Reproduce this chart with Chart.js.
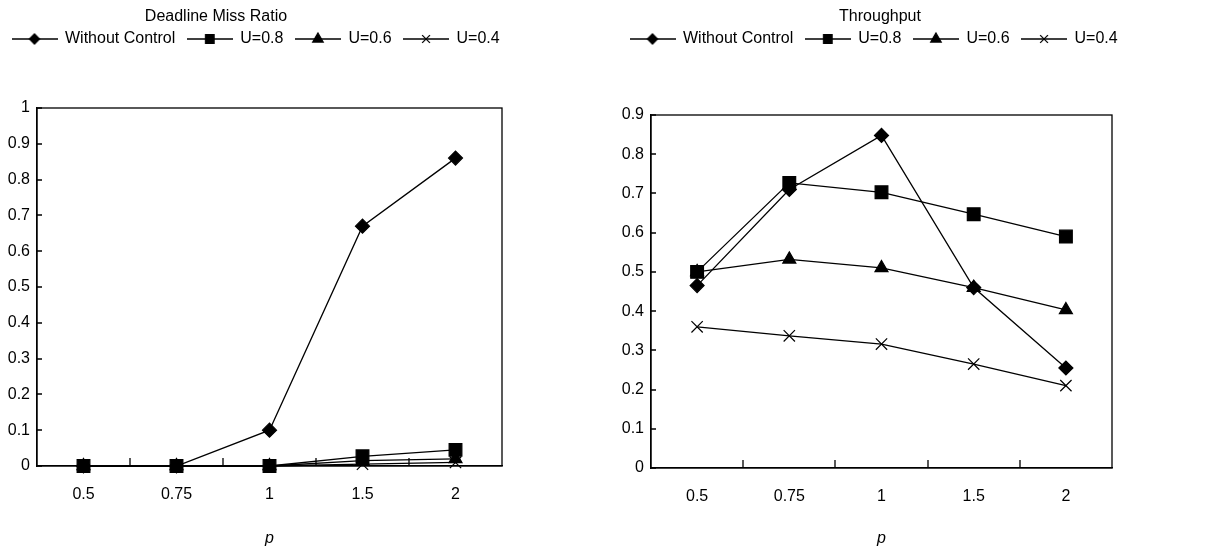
<!DOCTYPE html>
<html>
<head>
<meta charset="utf-8">
<script src="https://cdn.jsdelivr.net/npm/chart.js@4.4.1/dist/chart.umd.min.js"></script>
<style>
  body { margin: 0; background: #fff; }
  #left { position: absolute; left: 0; top: 0; width: 600px; height: 549px; }
  #right { position: absolute; left: 600px; top: 0; width: 606px; height: 549px; }
</style>
</head>
<body>
<div id="left"><canvas id="miss"></canvas></div>
<div id="right"><canvas id="thr"></canvas></div>
<script>
var categories = ['0.5', '0.75', '1', '1.5', '2'];
var seriesNames = ['Without Control', 'U=0.8', 'U=0.6', 'U=0.4'];

// Deadline Miss Ratio
var missWithout = [0, 0, 0.1, 0.67, 0.86];
var missU08 = [0, 0, 0, 0.027, 0.045];
var missU06 = [0, 0, 0, 0.015, 0.02];
var missU04 = [0, 0, 0, 0.005, 0.01];
var missTicks = [0, 0.1, 0.2, 0.3, 0.4, 0.5, 0.6, 0.7, 0.8, 0.9, 1];

// Throughput
var thrWithout = [0.465, 0.71, 0.848, 0.46, 0.255];
var thrU08 = [0.50, 0.727, 0.703, 0.647, 0.59];
var thrU06 = [0.50, 0.532, 0.51, 0.46, 0.403];
var thrU04 = [0.36, 0.337, 0.316, 0.265, 0.21];
var thrTicks = [0, 0.1, 0.2, 0.3, 0.4, 0.5, 0.6, 0.7, 0.8, 0.9];

var markers = ['rectRot', 'rect', 'triangle', 'crossRot'];
var markerSize = [7, 9, 7.5, 8];
var legendMarkerSize = [5, 6, 6, 5.5];
var FONT = '"Liberation Sans", Arial, sans-serif';

function legendIcon(i) {
  var c = document.createElement('canvas');
  c.width = 46; c.height = 16;
  var ctx = c.getContext('2d');
  ctx.strokeStyle = '#000';
  ctx.fillStyle = '#000';
  ctx.lineWidth = 1.3;
  ctx.beginPath();
  ctx.moveTo(0, 8); ctx.lineTo(46, 8);
  ctx.stroke();
  Chart.helpers.drawPoint(ctx, {pointStyle: markers[i], radius: legendMarkerSize[i], borderWidth: 1.2, rotation: 0}, 23, 8);
  return c;
}

var frame = {
  id: 'frame',
  beforeDatasetsDraw: function(chart) {
    var a = chart.chartArea, ctx = chart.ctx, x = chart.scales.x, y = chart.scales.y;
    ctx.save();
    ctx.strokeStyle = '#000';
    ctx.lineWidth = 1.3;
    ctx.strokeRect(a.left, a.top, a.right - a.left, a.bottom - a.top);
    ctx.beginPath();
    for (var i = 1; i < categories.length; i++) {
      var px = Math.round((x.getPixelForTick(i - 1) + x.getPixelForTick(i)) / 2);
      ctx.moveTo(px, a.bottom); ctx.lineTo(px, a.bottom - 8);
    }
    for (var j = 0; j < y.ticks.length; j++) {
      var py = Math.round(y.getPixelForTick(j));
      ctx.moveTo(a.left, py); ctx.lineTo(a.left + 5, py);
    }
    ctx.stroke();
    ctx.restore();
  }
};

var chartTitle = {
  id: 'chartTitle',
  afterDraw: function(chart, args, opts) {
    var ctx = chart.ctx;
    ctx.save();
    ctx.font = '16px ' + FONT;
    ctx.fillStyle = '#000';
    ctx.textAlign = 'center';
    ctx.textBaseline = 'middle';
    ctx.fillText(opts.text, opts.x, opts.y);
    ctx.restore();
  }
};

// legend: one row wider than the plot, and extra room below it
var legendRoom = {
  id: 'legendRoom',
  beforeInit: function(chart, args, opts) {
    var lg = chart.legend;
    var fit = lg.fit;
    var draw = lg.draw;
    lg.fit = function() {
      this.maxWidth = chart.width;
      fit.call(this);
      this.height = opts.height;
    };
    lg.draw = function() {
      var r = this.right;
      this.right = chart.width;
      draw.call(this);
      this.right = r;
    };
  }
};

function makeDatasets(values) {
  return values.map(function(v, i) {
    return {
      label: seriesNames[i],
      data: v,
      borderColor: '#000',
      backgroundColor: '#000',
      borderWidth: 1.3,
      pointStyle: markers[i],
      pointRadius: markerSize[i],
      pointHoverRadius: markerSize[i],
      pointBackgroundColor: '#000',
      pointBorderColor: '#000',
      pointBorderWidth: 1.2,
      tension: 0,
      clip: false
    };
  });
}

function makeChart(id, values, ticks, opts) {
  var ctx = document.getElementById(id).getContext('2d');
  return new Chart(ctx, {
    type: 'line',
    data: {
      labels: categories,
      datasets: makeDatasets(values)
    },
    plugins: [frame, chartTitle, legendRoom],
    options: {
      responsive: true,
      maintainAspectRatio: false,
      animation: false,
      events: [],
      layout: { padding: { left: opts.padLeft, right: opts.padRight, top: 19, bottom: 0 } },
      plugins: {
        tooltip: { enabled: false },
        title: { display: false },
        chartTitle: { text: opts.title, x: opts.titleX, y: 17 },
        legendRoom: { height: opts.legendHeight },
        legend: {
          display: true,
          align: 'start',
          labels: {
            usePointStyle: true,
            pointStyleWidth: 45,
            padding: 12,
            color: '#000',
            font: { family: FONT, size: 16 },
            generateLabels: function(chart) {
              return chart.data.datasets.map(function(ds, i) {
                return {
                  text: ds.label,
                  pointStyle: legendIcon(i),
                  fillStyle: '#000',
                  strokeStyle: '#000',
                  lineWidth: 0,
                  fontColor: '#000',
                  hidden: false,
                  datasetIndex: i
                };
              });
            }
          }
        }
      },
      scales: {
        x: {
          offset: true,
          grid: { display: false },
          border: { display: true, color: '#000', width: 1.3 },
          ticks: { color: '#000', padding: 11, font: { family: FONT, size: 16 } },
          title: { display: true, text: 'p', color: '#000', padding: { top: 0, bottom: 1 }, font: { family: FONT, size: 16, style: 'italic' } },
          afterFit: function(s) { s.height = opts.xHeight; }
        },
        y: {
          min: 0,
          max: ticks[ticks.length - 1],
          grid: { display: false, drawTicks: false },
          border: { display: true, color: '#000', width: 1.3 },
          afterBuildTicks: function(s) { s.ticks = ticks.map(function(t) { return {value: t}; }); },
          ticks: {
            color: '#000', padding: 7, font: { family: FONT, size: 16 },
            callback: function(v) { return String(Math.round(v * 10) / 10); }
          },
          afterFit: function(s) { s.width = opts.yWidth; }
        }
      }
    }
  });
}

makeChart('miss', [missWithout, missU08, missU06, missU04], missTicks, {
  title: 'Deadline Miss Ratio', titleX: 216,
  padLeft: 0, padRight: 98, yWidth: 37, legendHeight: 89, xHeight: 83
});

makeChart('thr', [thrWithout, thrU08, thrU06, thrU04], thrTicks, {
  title: 'Throughput', titleX: 280,
  padLeft: 18, padRight: 94, yWidth: 33, legendHeight: 96, xHeight: 81
});
</script>
</body>
</html>
